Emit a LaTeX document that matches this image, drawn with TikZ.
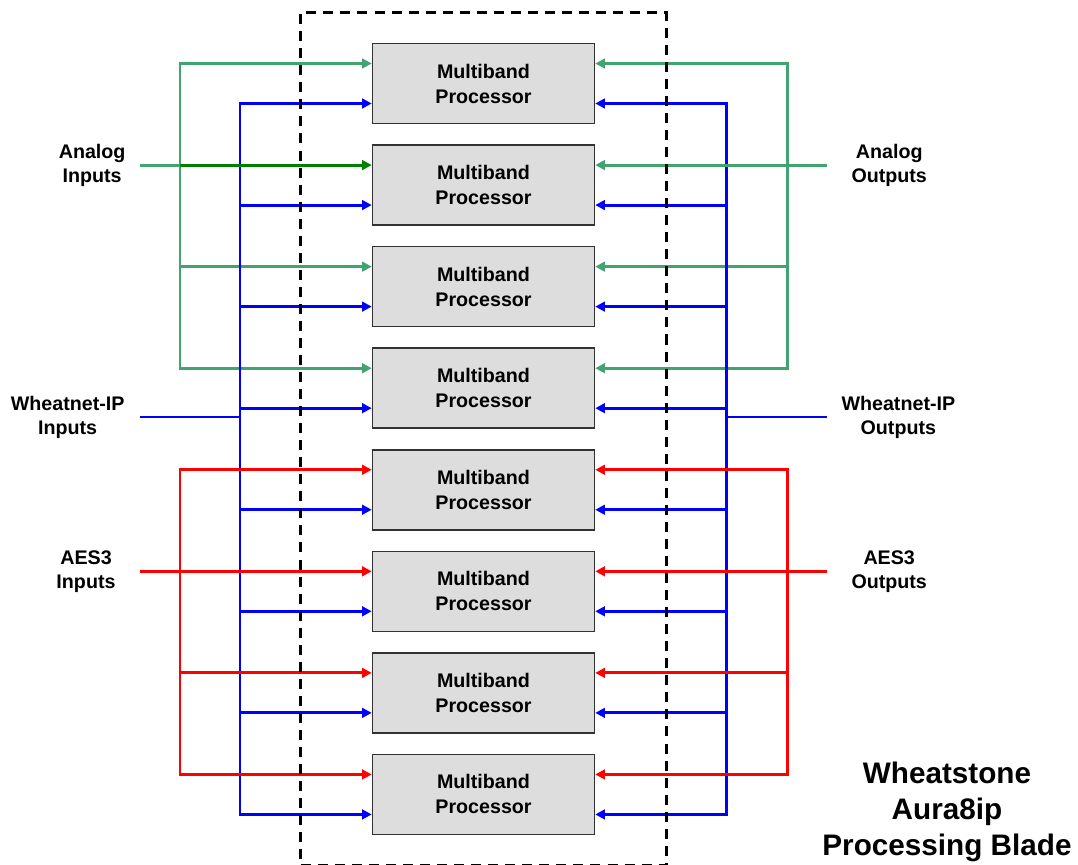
\documentclass[tikz,border=0pt]{standalone}
\usepackage{fontspec}
\setmainfont{Liberation Sans}
\usetikzlibrary{arrows.meta,positioning,fit}

\definecolor{anagreen}{RGB}{64,163,112}
\definecolor{feedgreen}{RGB}{0,128,0}
\definecolor{boxgray}{RGB}{221,221,221}
\definecolor{boxedge}{RGB}{50,50,50}

\begin{document}
\begin{tikzpicture}[x=0.02cm,y=-0.02cm
	,>={Triangle[length=5.5pt,width=5.5pt]}
	,node distance=0.4cm
	,line width=1.7pt]
  \tikzstyle{proc}=[draw=boxedge,fill=boxgray,line width=0.9pt
    ,minimum width=4.44cm,minimum height=1.6cm,align=center
    ,font=\bfseries\fontsize{11.2}{14.2}\selectfont]
  \tikzstyle{lbl}=[inner sep=0pt,align=center
    ,font=\bfseries\fontsize{11.2}{13.6}\selectfont]
  \tikzstyle{gline}=[draw=anagreen]
  \tikzstyle{bline}=[draw=blue]
  \tikzstyle{rline}=[draw=red]
  \tikzstyle{blade}=[draw,line width=1.5pt,dash pattern=on 5.7pt off 4pt
    ,inner xsep=1.42cm,inner ysep=0.6cm]

  \useasboundingbox (0,0) rectangle (1078,865);

  % 8 processors
  \node[proc] (b1) at (483.5,83.5) {Multiband\\Processor};
  \node[proc,below=of b1] (b2) {Multiband\\Processor};
  \node[proc,below=of b2] (b3) {Multiband\\Processor};
  \node[proc,below=of b3] (b4) {Multiband\\Processor};
  \node[proc,below=of b4] (b5) {Multiband\\Processor};
  \node[proc,below=of b5] (b6) {Multiband\\Processor};
  \node[proc,below=of b6] (b7) {Multiband\\Processor};
  \node[proc,below=of b7] (b8) {Multiband\\Processor};

  % entry points, upper (analog / aes) and lower (wheatnet)
  \coordinate (ul1) at ([yshift=.4cm]b1.west); \coordinate (dl1) at ([yshift=-.4cm]b1.west);
  \coordinate (ur1) at ([yshift=.4cm]b1.east); \coordinate (dr1) at ([yshift=-.4cm]b1.east);
  \coordinate (ul2) at ([yshift=.4cm]b2.west); \coordinate (dl2) at ([yshift=-.4cm]b2.west);
  \coordinate (ur2) at ([yshift=.4cm]b2.east); \coordinate (dr2) at ([yshift=-.4cm]b2.east);
  \coordinate (ul3) at ([yshift=.4cm]b3.west); \coordinate (dl3) at ([yshift=-.4cm]b3.west);
  \coordinate (ur3) at ([yshift=.4cm]b3.east); \coordinate (dr3) at ([yshift=-.4cm]b3.east);
  \coordinate (ul4) at ([yshift=.4cm]b4.west); \coordinate (dl4) at ([yshift=-.4cm]b4.west);
  \coordinate (ur4) at ([yshift=.4cm]b4.east); \coordinate (dr4) at ([yshift=-.4cm]b4.east);
  \coordinate (ul5) at ([yshift=.4cm]b5.west); \coordinate (dl5) at ([yshift=-.4cm]b5.west);
  \coordinate (ur5) at ([yshift=.4cm]b5.east); \coordinate (dr5) at ([yshift=-.4cm]b5.east);
  \coordinate (ul6) at ([yshift=.4cm]b6.west); \coordinate (dl6) at ([yshift=-.4cm]b6.west);
  \coordinate (ur6) at ([yshift=.4cm]b6.east); \coordinate (dr6) at ([yshift=-.4cm]b6.east);
  \coordinate (ul7) at ([yshift=.4cm]b7.west); \coordinate (dl7) at ([yshift=-.4cm]b7.west);
  \coordinate (ur7) at ([yshift=.4cm]b7.east); \coordinate (dr7) at ([yshift=-.4cm]b7.east);
  \coordinate (ul8) at ([yshift=.4cm]b8.west); \coordinate (dl8) at ([yshift=-.4cm]b8.west);
  \coordinate (ur8) at ([yshift=.4cm]b8.east); \coordinate (dr8) at ([yshift=-.4cm]b8.east);

  % buses and stubs
  \coordinate (gL) at (180,0);  \coordinate (bL) at (240,0);
  \coordinate (bR) at (726,0);  \coordinate (gR) at (787,0);
  \coordinate (ainp) at (140,0 |- ul2);   \coordinate (aoutp) at (827,0 |- ur2);
  \coordinate (winp) at (140,417);        \coordinate (woutp) at (827,417);
  \coordinate (aesinp) at (140,0 |- ul6); \coordinate (aesoutp) at (827,0 |- ur6);

  % labels
  \node[lbl,left=0.26cm of ainp] (ain) {Analog\\Inputs};
  \node[lbl,left=0.28cm of winp] (win) {Wheatnet-IP\\Inputs};
  \node[lbl,left=0.46cm of aesinp] (aesin) {AES3\\Inputs};
  \node[lbl,right=0.46cm of aoutp] (aout) {Analog\\Outputs};
  \node[lbl,right=0.26cm of woutp] (wout) {Wheatnet-IP\\Outputs};
  \node[lbl,right=0.46cm of aesoutp] (aesout) {AES3\\Outputs};

  % left side
  \draw[gline,<->] (ul1) -- (gL |- ul1) -- (gL |- ul4) -- (ul4);
  \draw[gline,->] (gL |- ul3) -- (ul3);
  \draw[gline] (ainp) -- (gL |- ul2);
  \draw[bline,<->] (dl1) -- (bL |- dl1) -- (bL |- dl8) -- (dl8);
  \draw[bline,->] (bL |- dl2) -- (dl2);
  \draw[bline,->] (bL |- dl3) -- (dl3);
  \draw[bline,->] (bL |- dl4) -- (dl4);
  \draw[bline,->] (bL |- dl5) -- (dl5);
  \draw[bline,->] (bL |- dl6) -- (dl6);
  \draw[bline,->] (bL |- dl7) -- (dl7);
  \draw[bline] (winp) -- (bL |- winp);
  \draw[rline,<->] (ul5) -- (gL |- ul5) -- (gL |- ul8) -- (ul8);
  \draw[rline,->] (aesinp) -- (ul6);
  \draw[rline,->] (gL |- ul7) -- (ul7);
  \draw[draw=feedgreen,->] (gL |- ul2) -- (ul2);

  % right side
  \draw[gline,<->] (ur1) -- (gR |- ur1) -- (gR |- ur4) -- (ur4);
  \draw[gline,->] (gR |- ur3) -- (ur3);
  \draw[bline,<->] (dr1) -- (bR |- dr1) -- (bR |- dr8) -- (dr8);
  \draw[bline,->] (bR |- dr2) -- (dr2);
  \draw[bline,->] (bR |- dr3) -- (dr3);
  \draw[bline,->] (bR |- dr4) -- (dr4);
  \draw[bline,->] (bR |- dr5) -- (dr5);
  \draw[bline,->] (bR |- dr6) -- (dr6);
  \draw[bline,->] (bR |- dr7) -- (dr7);
  \draw[bline] (woutp) -- (bR |- woutp);
  \draw[gline,->] (aoutp) -- (ur2);
  \draw[rline,<->] (ur5) -- (gR |- ur5) -- (gR |- ur8) -- (ur8);
  \draw[rline,->] (aesoutp) -- (ur6);
  \draw[rline,->] (gR |- ur7) -- (ur7);

  % the blade
  \node[blade,fit=(b1)(b8)] (frame) {};

  \node[align=center,font=\bfseries\fontsize{16.9}{20.7}\selectfont]
    (title) at (947,812) {Wheatstone\\Aura8ip\\Processing Blade};
\end{tikzpicture}
\end{document}
